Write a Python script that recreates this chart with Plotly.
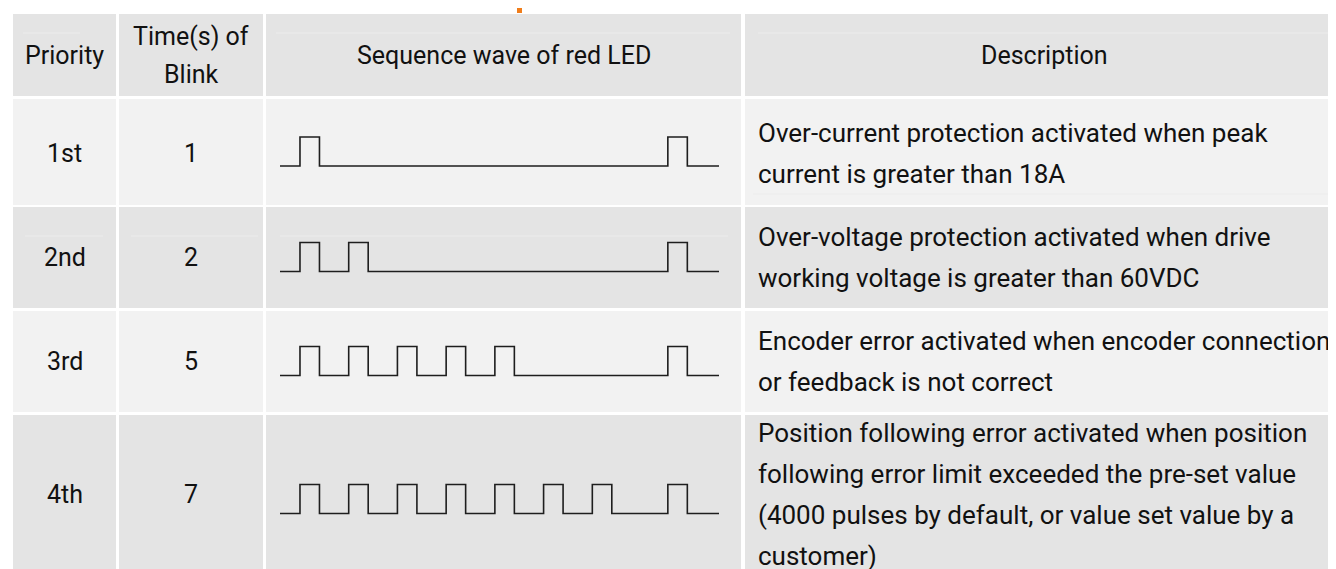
import plotly.graph_objects as go

# ---------------- data ----------------
headers = ["Priority", "Time(s) of<br>Blink", "Sequence wave of red LED", "Description"]
priorities = ["1st", "2nd", "3rd", "4th"]
blink_counts = [1, 2, 5, 7]
descriptions = [
    ["Over-current protection activated when peak",
     "current is greater than 18A"],
    ["Over-voltage protection activated when drive",
     "working voltage is greater than 60VDC"],
    ["Encoder error activated when encoder connection",
     "or feedback is not correct"],
    ["Position following error activated when position",
     "following error limit exceeded the pre-set value",
     "(4000 pulses by default, or value set value by a",
     "customer)"],
]
# waveform timing (in blink periods)
pulse_width = 0.4
repeat_at = 7.55
wave_start = -0.41
wave_end = 8.6

# ---------------- layout geometry (pixels) ----------------
W, H = 1336, 569
col_x = [(5, 108), (111, 255), (258, 733), (737, 1340)]
row_y = [(6, 88), (91, 197), (199, 300), (303, 404), (407, 576)]
text_center = [47, 145, 249.5, 353, 486]
header_fill = "#e4e4e4"
row_fills = ["#f2f2f2", "#e4e4e4", "#f2f2f2", "#e4e4e4"]
FONT = "Roboto"
FS_H = 25
FS_D = 26
FS_N = 25
TXT = "#111111"

fig = go.Figure()
shapes = []
annotations = []

# cells
for ri, (y0, y1) in enumerate(row_y):
    fill = header_fill if ri == 0 else row_fills[ri - 1]
    for (x0, x1) in col_x:
        shapes.append(dict(type="rect", xref="x", yref="y", x0=x0, x1=x1, y0=y0, y1=y1,
                           fillcolor=fill, line=dict(width=0), layer="below"))

# faint rendering lines
faint = [(25, 15, 72), (25, 268, 722), (25, 750, 1322),
         (186, 745, 1322),
         (228, 17, 95), (228, 123, 250), (228, 272, 720)]
for (yy, xa, xb) in faint:
    shapes.append(dict(type="line", xref="x", yref="y", x0=xa, x1=xb, y0=yy, y1=yy,
                       line=dict(color="#ececec", width=1), layer="below"))

# orange fragment at top
shapes.append(dict(type="rect", xref="x", yref="y", x0=509, x1=514, y0=0, y1=5,
                   fillcolor="#f07d1a", line=dict(width=0)))

# header texts
hc = text_center[0]
for ci, h in enumerate(headers):
    cx = (col_x[ci][0] + min(col_x[ci][1], W)) / 2
    parts = h.split("<br>")
    n = len(parts)
    for j, p in enumerate(parts):
        annotations.append(dict(x=cx, y=hc + (j - (n - 1) / 2) * 38, xref="x", yref="y",
                                text=p, showarrow=False, xanchor="center", yanchor="middle",
                                font=dict(family=FONT, size=FS_H, color=TXT)))

# body texts
LINE = 41
for i in range(4):
    cy = text_center[i + 1]
    annotations.append(dict(x=(col_x[0][0] + col_x[0][1]) / 2, y=cy, xref="x", yref="y",
                            text=priorities[i], showarrow=False, xanchor="center", yanchor="middle",
                            font=dict(family=FONT, size=FS_N, color=TXT)))
    annotations.append(dict(x=(col_x[1][0] + col_x[1][1]) / 2, y=cy, xref="x", yref="y",
                            text=str(blink_counts[i]), showarrow=False, xanchor="center", yanchor="middle",
                            font=dict(family=FONT, size=FS_N, color=TXT)))
    lines = descriptions[i]
    n = len(lines)
    for j, ln in enumerate(lines):
        annotations.append(dict(x=col_x[3][0] + 11, y=cy + (j - (n - 1) / 2) * LINE, xref="x", yref="y",
                                text=ln, showarrow=False, xanchor="left", yanchor="middle",
                                font=dict(family=FONT, size=FS_D, color=TXT)))

# invisible trace to anchor pixel axes
fig.add_trace(go.Scatter(x=[0, W], y=[0, H], mode="markers", marker=dict(opacity=0),
                         hoverinfo="skip", showlegend=False, xaxis="x", yaxis="y"))

# waveforms: one y-axis per row
wave_x0, wave_x1 = 272, 711
layout_axes = {}
layout_axes["xaxis2"] = dict(domain=[wave_x0 / W, wave_x1 / W], range=[wave_start, wave_end],
                             visible=False, anchor="y2", fixedrange=True)
for i, n in enumerate(blink_counts):
    xs = [wave_start]
    ys = [0]
    for k in range(n):
        xs += [k, k, k + pulse_width, k + pulse_width]
        ys += [0, 1, 1, 0]
    xs += [repeat_at, repeat_at, repeat_at + pulse_width, repeat_at + pulse_width, wave_end]
    ys += [0, 1, 1, 0, 0]
    ax = i + 2
    fig.add_trace(go.Scatter(x=xs, y=ys, mode="lines", line=dict(color="#1e1e1e", width=1.6),
                             hoverinfo="skip", showlegend=False, xaxis="x2", yaxis=f"y{ax}",
                             cliponaxis=False))
    T, B = row_y[i + 1]
    c = (T + B) / 2
    B = min(B, H)
    low_px, high_px = c + 14, c - 15
    u = 1.0 / (low_px - high_px)
    layout_axes[f"yaxis{ax}"] = dict(domain=[1 - B / H, 1 - T / H],
                                     range=[-(B - low_px) * u, (low_px - T) * u],
                                     visible=False, anchor="x2", fixedrange=True)

fig.update_layout(
    width=W, height=H, margin=dict(l=0, r=0, t=0, b=0),
    paper_bgcolor="white", plot_bgcolor="rgba(0,0,0,0)",
    xaxis=dict(range=[0, W], visible=False, domain=[0, 1], fixedrange=True),
    yaxis=dict(range=[H, 0], visible=False, domain=[0, 1], fixedrange=True),
    shapes=shapes, annotations=annotations, showlegend=False,
    **layout_axes,
)

fig.write_html("out.html")
